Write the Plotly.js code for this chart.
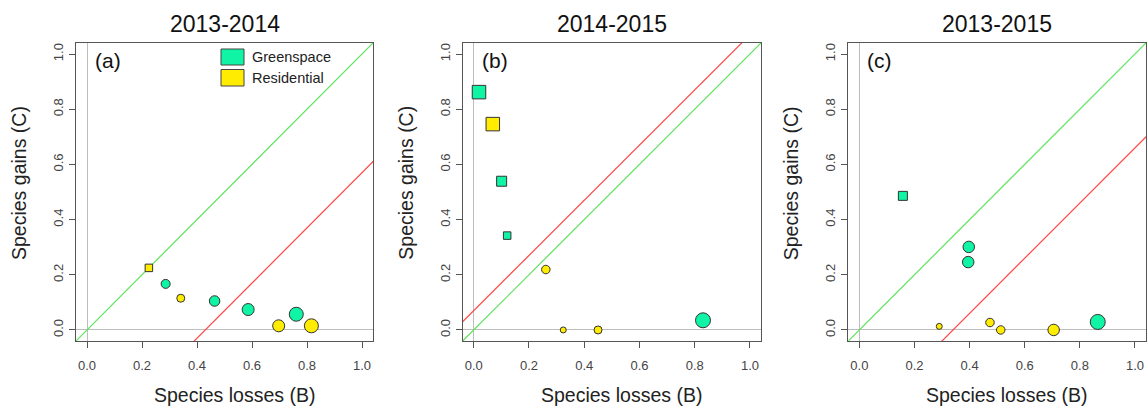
<!DOCTYPE html>
<html>
<head>
<meta charset="utf-8">
<script src="https://cdn.plot.ly/plotly-3.0.1.min.js"></script>
<style>html,body{margin:0;padding:0;background:#fff;}#chart{width:1148px;height:406px;}</style>
</head>
<body>
<div id="chart"></div>
<script>
// ---- data ----
const panelTitles = ["2013-2014", "2014-2015", "2013-2015"];
const panelLetters = ["(a)", "(b)", "(c)"];
const tickVals = [0, 0.2, 0.4, 0.6, 0.8, 1.0];
const tickLabels = ["0.0", "0.2", "0.4", "0.6", "0.8", "1.0"];
const redIntercepts = [-0.43, 0.07, -0.34];

// panel (a) 2013-2014
const aGreenLoss  = [0.286, 0.464, 0.586, 0.761];
const aGreenGain  = [0.167, 0.105, 0.074, 0.057];
const aGreenSize  = [9, 10.5, 12, 14];
const aGreenSym   = ["circle", "circle", "circle", "circle"];
const aResLoss    = [0.225, 0.341, 0.697, 0.816];
const aResGain    = [0.225, 0.115, 0.015, 0.015];
const aResSize    = [7.5, 8, 12, 14];
const aResSym     = ["square", "circle", "circle", "circle"];

// panel (b) 2014-2015
const bGreenLoss  = [0.019, 0.101, 0.121, 0.830];
const bGreenGain  = [0.862, 0.539, 0.342, 0.035];
const bGreenSize  = [13.5, 10, 7.5, 15];
const bGreenSym   = ["square", "square", "square", "circle"];
const bResLoss    = [0.069, 0.261, 0.324, 0.450];
const bResGain    = [0.746, 0.219, 0.0, 0.0];
const bResSize    = [13.5, 8.5, 6, 8];
const bResSym     = ["square", "circle", "circle", "circle"];

// panel (c) 2013-2015
const cGreenLoss  = [0.158, 0.397, 0.395, 0.865];
const cGreenGain  = [0.486, 0.301, 0.246, 0.029];
const cGreenSize  = [9, 11.5, 11.5, 15];
const cGreenSym   = ["square", "circle", "circle", "circle"];
const cResLoss    = [0.290, 0.474, 0.513, 0.705];
const cResGain    = [0.013, 0.027, 0.0, 0.0];
const cResSize    = [6, 8.5, 8.5, 11.5];
const cResSym     = ["circle", "circle", "circle", "circle"];

const greenCol = "#10F5A5";
const yellowCol = "#FFEC00";

// ---- build ----
const panels = [
  {gx: aGreenLoss, gy: aGreenGain, gs: aGreenSize, gsym: aGreenSym, rx: aResLoss, ry: aResGain, rs: aResSize, rsym: aResSym},
  {gx: bGreenLoss, gy: bGreenGain, gs: bGreenSize, gsym: bGreenSym, rx: bResLoss, ry: bResGain, rs: bResSize, rsym: bResSym},
  {gx: cGreenLoss, gy: cGreenGain, gs: cGreenSize, gsym: cGreenSym, rx: cResLoss, ry: cResGain, rs: cResSize, rsym: cResSym}
];

const W = 1148, H = 406;
const frameL = [76, 462.7, 848.3];
const frameR = [373, 761, 1146];
const frameT = 43, frameB = 341;

const traces = [];
const layout = {
  width: W, height: H,
  margin: {l: 0, r: 0, t: 0, b: 0},
  paper_bgcolor: "#fff", plot_bgcolor: "#fff",
  showlegend: false,
  font: {family: "Liberation Sans, Arial, sans-serif", color: "#222"},
  annotations: [], shapes: []
};

const lineX = [-0.2, 1.2];

panels.forEach((p, i) => {
  const sfx = i === 0 ? "" : String(i + 1);
  const xa = "x" + sfx, ya = "y" + sfx;
  // reference lines
  traces.push({x: lineX, y: lineX.map(v => v), xaxis: xa, yaxis: ya, mode: "lines",
    line: {color: "#5BE35B", width: 1.2}, hoverinfo: "skip"});
  traces.push({x: lineX, y: lineX.map(v => v + redIntercepts[i]), xaxis: xa, yaxis: ya, mode: "lines",
    line: {color: "#FF4545", width: 1.2}, hoverinfo: "skip"});
  // points
  traces.push({x: p.gx, y: p.gy, xaxis: xa, yaxis: ya, mode: "markers", name: "Greenspace",
    marker: {color: greenCol, opacity: 1, size: p.gs, symbol: p.gsym, line: {color: "#333", width: 1}}, cliponaxis: false});
  traces.push({x: p.rx, y: p.ry, xaxis: xa, yaxis: ya, mode: "markers", name: "Residential",
    marker: {color: yellowCol, opacity: 1, size: p.rs, symbol: p.rsym, line: {color: "#333", width: 1}}, cliponaxis: false});

  const common = {
    range: [-0.04, 1.04], tickvals: tickVals, ticktext: tickLabels,
    showline: true, mirror: true, linecolor: "#555", linewidth: 1,
    ticks: "outside", ticklen: 6, tickcolor: "#555", tickwidth: 1,
    showgrid: false, zeroline: true, zerolinecolor: "#BDBDBD", zerolinewidth: 1,
    tickfont: {size: 13, color: "#444", family: "Liberation Sans, Arial, sans-serif"},
    fixedrange: true
  };
  layout["xaxis" + sfx] = Object.assign({}, common, {
    domain: [frameL[i] / W, frameR[i] / W], anchor: ya, ticklabelstandoff: 6
  });
  layout["yaxis" + sfx] = Object.assign({}, common, {
    domain: [1 - frameB / H, 1 - frameT / H], anchor: xa, tickangle: -90, ticklabelstandoff: 1
  });

  // titles
  const cx = (frameL[i] + frameR[i]) / 2;
  layout.annotations.push({text: panelTitles[i], xref: "paper", yref: "paper",
    x: cx / W, y: 1 - 24 / H, xanchor: "center", yanchor: "middle", showarrow: false,
    font: {size: 23, color: "#111"}});
  layout.annotations.push({text: "Species losses (B)", xref: "paper", yref: "paper",
    x: (cx + 9.5) / W, y: 1 - 395 / H, xanchor: "center", yanchor: "middle", showarrow: false,
    font: {size: 19.5, color: "#222"}});
  layout.annotations.push({text: "Species gains (C)", xref: "paper", yref: "paper",
    x: (frameL[i] - 57) / W, y: 1 - 183 / H, xanchor: "center", yanchor: "middle", showarrow: false,
    textangle: -90, font: {size: 19.5, color: "#222"}});
  layout.annotations.push({text: panelLetters[i], xref: "paper", yref: "paper",
    x: (frameL[i] + 17) / W, y: 1 - 61 / H, xanchor: "left", yanchor: "middle", showarrow: false,
    font: {size: 21, color: "#111"}});
});

// legend (panel a)
const legendItems = [{label: "Greenspace", col: greenCol, y0: 49, y1: 65}, {label: "Residential", col: yellowCol, y0: 69.5, y1: 86}];
legendItems.forEach(it => {
  layout.shapes.push({type: "rect", xref: "paper", yref: "paper",
    x0: 221 / W, x1: 244 / W, y0: 1 - it.y1 / H, y1: 1 - it.y0 / H,
    fillcolor: it.col, line: {color: "#444", width: 1}});
  layout.annotations.push({text: it.label, xref: "paper", yref: "paper",
    x: 250 / W, y: 1 - ((it.y0 + it.y1) / 2) / H, xanchor: "left", yanchor: "middle", showarrow: false,
    font: {size: 14.5, color: "#222"}});
});

Plotly.newPlot("chart", traces, layout, {staticPlot: true, displayModeBar: false});
</script>
</body>
</html>
